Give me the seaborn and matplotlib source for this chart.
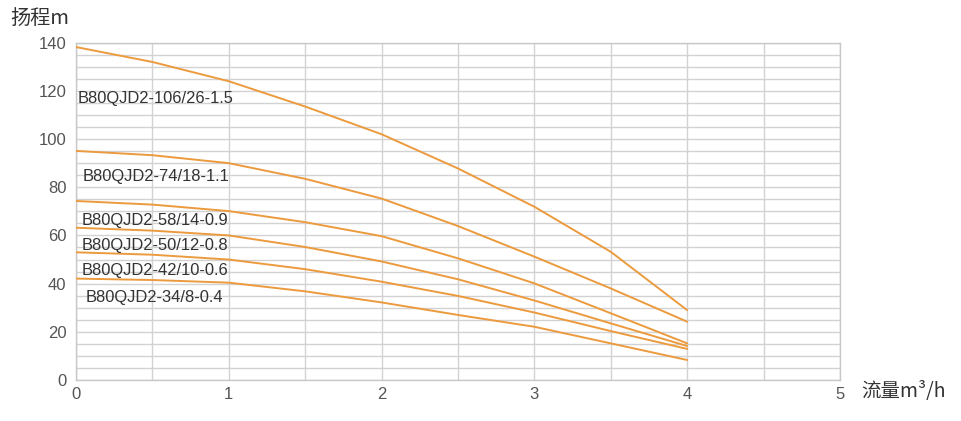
import numpy as np
import pandas as pd
import matplotlib
matplotlib.use("Agg")
import matplotlib.pyplot as plt
import seaborn as sns

flow = [0, 0.5, 1, 1.5, 2, 2.5, 3, 3.5, 4]
models = ["B80QJD2-106/26-1.5", "B80QJD2-74/18-1.1", "B80QJD2-58/14-0.9",
          "B80QJD2-50/12-0.8", "B80QJD2-42/10-0.6", "B80QJD2-34/8-0.4"]
head_106 = [138.2, 132.0, 124.0, 113.5, 102.0, 87.8, 71.9, 53.2, 29.0]
head_74 = [95.1, 93.3, 90.0, 83.5, 75.3, 63.9, 51.2, 38.0, 24.2]
head_58 = [74.3, 72.8, 70.1, 65.5, 59.7, 50.5, 40.1, 27.7, 15.2]
head_50 = [63.2, 62.0, 60.0, 55.2, 49.2, 41.8, 33.0, 23.5, 14.1]
head_42 = [53.0, 52.0, 50.0, 46.0, 40.8, 34.9, 28.0, 20.3, 12.9]
head_34 = [42.1, 41.5, 40.4, 36.8, 32.2, 27.0, 22.1, 15.2, 8.3]
label_x = [0.013, 0.045, 0.04, 0.04, 0.04, 0.065]
label_y = [117, 84.6, 66.4, 56, 45.6, 34.4]
x_ticks = [0, 1, 2, 3, 4, 5]
y_ticks = [0, 20, 40, 60, 80, 100, 120, 140]

heads = [head_106, head_74, head_58, head_50, head_42, head_34]
df = pd.DataFrame({
    "flow": flow * len(models),
    "head": [v for h in heads for v in h],
    "model": [m for m in models for _ in flow],
})

sns.set_theme(style="white")
plt.rcParams["font.family"] = ["Liberation Sans", "Noto Sans CJK SC", "DejaVu Sans"]

fig = plt.figure(figsize=(9.62, 4.21), dpi=100)
ax = fig.add_axes([76 / 962, 1 - 380 / 421, (840 - 76) / 962, (380 - 42.7) / 421])

orange = "#EC9A3E"
sns.lineplot(data=df, x="flow", y="head", hue="model", palette=[orange] * len(models),
             legend=False, ax=ax, linewidth=1.4, zorder=3)

ax.set_xlim(0, 5)
ax.set_ylim(0, 140)
ax.set_xticks(x_ticks)
ax.set_yticks(y_ticks)
ax.set_xticks(np.arange(0, 5.01, 0.5), minor=True)
ax.set_yticks(np.arange(0, 140.1, 5), minor=True)
ax.grid(which="both", color="#d2d2d2", linewidth=1.0, zorder=0)
ax.tick_params(which="both", length=0)
ax.tick_params(axis="both", labelsize=12, labelcolor="#555555")
ax.tick_params(axis="x", pad=5)
ax.tick_params(axis="y", pad=7)
for s in ax.spines.values():
    s.set_color("#c8c8c8")
    s.set_linewidth(1.0)
ax.set_xlabel("")
ax.set_ylabel("")

for name, lx, ly in zip(models, label_x, label_y):
    ax.text(lx, ly, name, fontsize=11.9, color="#333333", va="center", ha="left", zorder=4)

fig.text(10 / 962, 1 - 18 / 421, "扬程m", fontsize=14.5, color="#333333",
         va="center", ha="left", family=["Noto Sans CJK SC", "DejaVu Sans"])
fig.text(861 / 962, 1 - 392 / 421, "流量m³/h", fontsize=14, color="#333333",
         va="center", ha="left", family=["Noto Sans CJK SC", "DejaVu Sans"])

fig.savefig("out.png", dpi=100)
